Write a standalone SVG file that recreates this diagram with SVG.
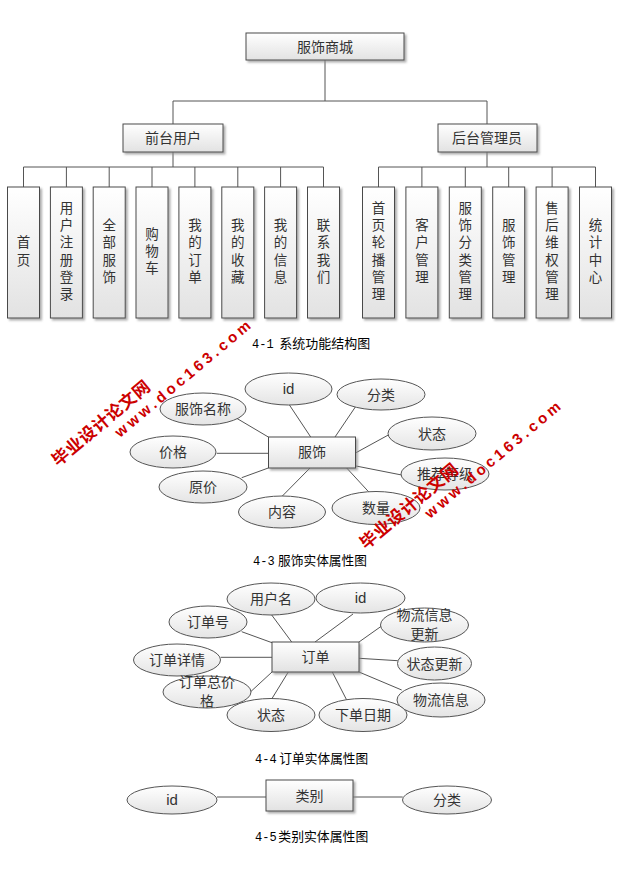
<svg xmlns="http://www.w3.org/2000/svg" width="626" height="877" viewBox="0 0 626 877">
<defs>
<linearGradient id="gBox" x1="0" y1="0" x2="0" y2="1">
<stop offset="0" stop-color="#ffffff"/><stop offset="1" stop-color="#e2e2e2"/>
</linearGradient>
<linearGradient id="gEl" x1="0" y1="0" x2="0" y2="1">
<stop offset="0" stop-color="#ffffff"/><stop offset="1" stop-color="#e4e4e4"/>
</linearGradient>
<filter id="sh" x="-20%" y="-20%" width="140%" height="140%">
<feDropShadow dx="2" dy="2" stdDeviation="1.2" flood-color="#8a8a8a" flood-opacity="0.7"/>
</filter>
<style>
.box{fill:url(#gBox);stroke:#4a4a4a;stroke-width:1;filter:url(#sh)}
.el{fill:url(#gEl);stroke:#555;stroke-width:1}
.ln{stroke:#555;stroke-width:1;fill:none}
.t{font-family:"Noto Sans CJK SC","Noto Sans",sans-serif;font-size:14px;fill:#333;text-anchor:middle}
.v{font-family:"Noto Sans CJK SC","Noto Sans",sans-serif;font-size:13.5px;fill:#333;text-anchor:middle}
.id{font-family:"Liberation Sans",Arial,sans-serif;font-size:15px;fill:#333;text-anchor:middle}
.cap{font-family:"Noto Sans CJK SC","Noto Sans",sans-serif;font-size:13px;fill:#000}
.num{font-family:"Liberation Mono","Courier New",monospace;font-size:12px;fill:#000}
.wm{font-family:"Liberation Sans","Noto Sans CJK SC",sans-serif;font-weight:bold;fill:#cc0000}
</style>
</defs>
<rect width="626" height="877" fill="#fff"/>

<g id="connectors">
<path class="ln" d="M325,60V101M173,101H487M173,101V124M487,101V124"/>
<path class="ln" d="M173,152V167M23.5,167H323.5M23.5,167V187M66.4,167V187M109.2,167V187M152,167V187M194.9,167V187M237.8,167V187M280.6,167V187M323.5,167V187"/>
<path class="ln" d="M487,152V167M378.5,167H595.5M378.5,167V187M421.9,167V187M465.3,167V187M508.7,167V187M552.1,167V187M595.5,167V187"/>
<path class="ln" d="M236.7,418.3L268.3,437M288.3,403.3L310.7,437M356,406L335,437M388.3,435L356,452.7M216.7,453.3H268M401.7,475L356,466M241.7,477.7L268.3,468M370,493.3L346.7,468M281.7,496.7L310,468"/>
<path class="ln" d="M271.7,615L291.7,642M353,614L315,642M241.7,631.7L272,642.7M383,625L359,642M220.7,657.3H272M397.7,660.7L359,658.3M250.7,691.7L272,672M401.7,690L359,672M271.7,699L288.3,672M346.7,700L332.3,672"/>
<path class="ln" d="M217,797H266M353,797H402.7"/>
</g>

<g id="root"><rect class="box" x="246" y="33" width="158" height="27"/><text class="t" x="325" y="52">服饰商城</text></g>
<g id="front"><rect class="box" x="123" y="124" width="100" height="28"/><text class="t" x="173" y="143">前台用户</text></g>
<g id="admin"><rect class="box" x="438" y="124" width="99" height="28"/><text class="t" x="487" y="143">后台管理员</text></g>

<g id="f1"><rect class="box" x="7.5" y="187" width="32" height="131"/><text class="v"><tspan x="23.5" y="247.4">首</tspan><tspan x="23.5" y="264.6">页</tspan></text></g>
<g id="f2"><rect class="box" x="50.4" y="187" width="32" height="131"/><text class="v"><tspan x="66.4" y="213">用</tspan><tspan x="66.4" y="230.2">户</tspan><tspan x="66.4" y="247.4">注</tspan><tspan x="66.4" y="264.6">册</tspan><tspan x="66.4" y="281.8">登</tspan><tspan x="66.4" y="299">录</tspan></text></g>
<g id="f3"><rect class="box" x="93.2" y="187" width="32" height="131"/><text class="v"><tspan x="109.2" y="230.2">全</tspan><tspan x="109.2" y="247.4">部</tspan><tspan x="109.2" y="264.6">服</tspan><tspan x="109.2" y="281.8">饰</tspan></text></g>
<g id="f4"><rect class="box" x="136" y="187" width="32" height="131"/><text class="v"><tspan x="152" y="238.8">购</tspan><tspan x="152" y="256">物</tspan><tspan x="152" y="273.2">车</tspan></text></g>
<g id="f5"><rect class="box" x="178.9" y="187" width="32" height="131"/><text class="v"><tspan x="194.9" y="230.2">我</tspan><tspan x="194.9" y="247.4">的</tspan><tspan x="194.9" y="264.6">订</tspan><tspan x="194.9" y="281.8">单</tspan></text></g>
<g id="f6"><rect class="box" x="221.8" y="187" width="32" height="131"/><text class="v"><tspan x="237.8" y="230.2">我</tspan><tspan x="237.8" y="247.4">的</tspan><tspan x="237.8" y="264.6">收</tspan><tspan x="237.8" y="281.8">藏</tspan></text></g>
<g id="f7"><rect class="box" x="264.6" y="187" width="32" height="131"/><text class="v"><tspan x="280.6" y="230.2">我</tspan><tspan x="280.6" y="247.4">的</tspan><tspan x="280.6" y="264.6">信</tspan><tspan x="280.6" y="281.8">息</tspan></text></g>
<g id="f8"><rect class="box" x="307.5" y="187" width="32" height="131"/><text class="v"><tspan x="323.5" y="230.2">联</tspan><tspan x="323.5" y="247.4">系</tspan><tspan x="323.5" y="264.6">我</tspan><tspan x="323.5" y="281.8">们</tspan></text></g>

<g id="a1"><rect class="box" x="362.5" y="187" width="32" height="131"/><text class="v"><tspan x="378.5" y="213">首</tspan><tspan x="378.5" y="230.2">页</tspan><tspan x="378.5" y="247.4">轮</tspan><tspan x="378.5" y="264.6">播</tspan><tspan x="378.5" y="281.8">管</tspan><tspan x="378.5" y="299">理</tspan></text></g>
<g id="a2"><rect class="box" x="405.9" y="187" width="32" height="131"/><text class="v"><tspan x="421.9" y="230.2">客</tspan><tspan x="421.9" y="247.4">户</tspan><tspan x="421.9" y="264.6">管</tspan><tspan x="421.9" y="281.8">理</tspan></text></g>
<g id="a3"><rect class="box" x="449.3" y="187" width="32" height="131"/><text class="v"><tspan x="465.3" y="213">服</tspan><tspan x="465.3" y="230.2">饰</tspan><tspan x="465.3" y="247.4">分</tspan><tspan x="465.3" y="264.6">类</tspan><tspan x="465.3" y="281.8">管</tspan><tspan x="465.3" y="299">理</tspan></text></g>
<g id="a4"><rect class="box" x="492.7" y="187" width="32" height="131"/><text class="v"><tspan x="508.7" y="230.2">服</tspan><tspan x="508.7" y="247.4">饰</tspan><tspan x="508.7" y="264.6">管</tspan><tspan x="508.7" y="281.8">理</tspan></text></g>
<g id="a5"><rect class="box" x="536.1" y="187" width="32" height="131"/><text class="v"><tspan x="552.1" y="213">售</tspan><tspan x="552.1" y="230.2">后</tspan><tspan x="552.1" y="247.4">维</tspan><tspan x="552.1" y="264.6">权</tspan><tspan x="552.1" y="281.8">管</tspan><tspan x="552.1" y="299">理</tspan></text></g>
<g id="a6"><rect class="box" x="579.5" y="187" width="32" height="131"/><text class="v"><tspan x="595.5" y="230.2">统</tspan><tspan x="595.5" y="247.4">计</tspan><tspan x="595.5" y="264.6">中</tspan><tspan x="595.5" y="281.8">心</tspan></text></g>

<text class="num" x="252" y="347.5">4-1</text>
<text class="cap" x="279.3" y="347.5" textLength="91" lengthAdjust="spacingAndGlyphs">系统功能结构图</text>

<!-- ER 服饰 -->
<g id="e-fushi"><rect class="box" x="268.5" y="437" width="87" height="31"/><text class="t" x="312" y="457">服饰</text></g>
<g id="e1-id"><ellipse class="el" cx="288.5" cy="389" rx="43.5" ry="16"/><text class="id" x="288.5" y="394">id</text></g>
<g id="e1-fenlei"><ellipse class="el" cx="381" cy="394.5" rx="44" ry="15.5"/><text class="t" x="381" y="400">分类</text></g>
<g id="e1-name"><ellipse class="el" cx="203" cy="409" rx="43" ry="16"/><text class="t" x="203" y="414">服饰名称</text></g>
<g id="e1-status"><ellipse class="el" cx="432" cy="433.5" rx="44" ry="16.5"/><text class="t" x="432" y="439">状态</text></g>
<g id="e1-price"><ellipse class="el" cx="173" cy="452" rx="43" ry="16"/><text class="t" x="173" y="457">价格</text></g>
<g id="e1-rec"><ellipse class="el" cx="445" cy="474" rx="44" ry="16"/><text class="t" x="445" y="479">推荐等级</text></g>
<g id="e1-orig"><ellipse class="el" cx="203" cy="487" rx="44" ry="16"/><text class="t" x="203" y="492">原价</text></g>
<g id="e1-qty"><ellipse class="el" cx="376" cy="508" rx="44" ry="16.5"/><text class="t" x="376" y="513">数量</text></g>
<g id="e1-content"><ellipse class="el" cx="282" cy="512" rx="43.5" ry="16"/><text class="t" x="282" y="517">内容</text></g>
<text class="num" x="253" y="564.5">4-3</text>
<text class="cap" x="278" y="564.5" textLength="89" lengthAdjust="spacingAndGlyphs">服饰实体属性图</text>

<!-- ER 订单 -->
<g id="e-order"><rect class="box" x="272" y="642" width="87" height="30"/><text class="t" x="315.5" y="662">订单</text></g>
<g id="e2-user"><ellipse class="el" cx="271" cy="599" rx="44" ry="16"/><text class="t" x="271" y="604">用户名</text></g>
<g id="e2-id"><ellipse class="el" cx="360.5" cy="598" rx="44.5" ry="15"/><text class="id" x="360.5" y="603">id</text></g>
<g id="e2-no"><ellipse class="el" cx="208" cy="622" rx="39" ry="16"/><text class="t" x="208" y="627">订单号</text></g>
<g id="e2-logupd"><ellipse class="el" cx="424.5" cy="625" rx="44" ry="17"/><text class="t"><tspan x="424.5" y="620">物流信息</tspan><tspan x="424.5" y="639">更新</tspan></text></g>
<g id="e2-detail"><ellipse class="el" cx="177" cy="660" rx="43.5" ry="16"/><text class="t" x="177" y="665">订单详情</text></g>
<g id="e2-stupd"><ellipse class="el" cx="434.5" cy="663.5" rx="37" ry="16.5"/><text class="t" x="434.5" y="669">状态更新</text></g>
<g id="e2-total"><ellipse class="el" cx="207" cy="692" rx="44" ry="16"/><text class="t"><tspan x="207" y="687">订单总价</tspan><tspan x="207" y="706">格</tspan></text></g>
<g id="e2-log"><ellipse class="el" cx="441" cy="700" rx="44" ry="17"/><text class="t" x="441" y="705">物流信息</text></g>
<g id="e2-status"><ellipse class="el" cx="271" cy="715" rx="44" ry="16.5"/><text class="t" x="271" y="720">状态</text></g>
<g id="e2-date"><ellipse class="el" cx="363" cy="715" rx="44" ry="16.5"/><text class="t" x="363" y="720">下单日期</text></g>
<text class="num" x="255" y="762.5">4-4</text>
<text class="cap" x="279.3" y="762.5" textLength="89" lengthAdjust="spacingAndGlyphs">订单实体属性图</text>

<!-- ER 类别 -->
<g id="e-cat"><rect class="box" x="266" y="780" width="87" height="31"/><text class="t" x="309.5" y="801">类别</text></g>
<g id="e3-id"><ellipse class="el" cx="172" cy="800" rx="45" ry="14"/><text class="id" x="172" y="805">id</text></g>
<g id="e3-fenlei"><ellipse class="el" cx="447" cy="800" rx="44.5" ry="14"/><text class="t" x="447" y="805">分类</text></g>
<text class="num" x="255" y="840.5">4-5</text>
<text class="cap" x="278.3" y="840.5" textLength="90" lengthAdjust="spacingAndGlyphs">类别实体属性图</text>

<!-- watermarks -->
<text class="wm" transform="translate(58,467) rotate(-40)" style="font-size:17px" textLength="122">毕业设计论文网</text>
<text class="wm" transform="translate(120,438) rotate(-40)" style="font-size:15px" textLength="172">www.doc163.com</text>
<text class="wm" transform="translate(366,550) rotate(-40)" style="font-size:17px" textLength="122">毕业设计论文网</text>
<text class="wm" transform="translate(430,519) rotate(-40)" style="font-size:15px" textLength="172">www.doc163.com</text>
</svg>
